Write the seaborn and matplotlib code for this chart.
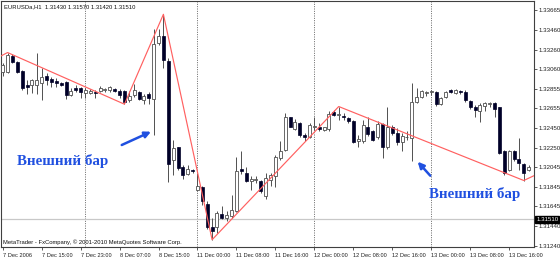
import matplotlib
matplotlib.use("Agg")
import matplotlib.pyplot as plt
import numpy as np
import pandas as pd
import seaborn as sns

# ---------------- data ----------------
opens = [1.33033, 1.33033, 1.33194, 1.33129, 1.33040, 1.32896, 1.32896, 1.32896, 1.32913, 1.32992,
         1.32958, 1.32937, 1.32920, 1.32923, 1.32793, 1.32862, 1.32862, 1.32817, 1.32817, 1.32827,
         1.32834, 1.32841, 1.32844, 1.32851, 1.32834, 1.32834, 1.32741, 1.32793, 1.32820, 1.32741,
         1.32800, 1.32748, 1.33325, 1.33403, 1.33143, 1.32124, 1.32251, 1.32045, 1.31977, 1.32021,
         1.31815, 1.31839, 1.31668, 1.31428, 1.31428, 1.31565, 1.31524, 1.31541, 1.31592, 1.32028,
         1.31987, 1.31901, 1.31915, 1.31908, 1.31747, 1.31918, 1.31953, 1.32141, 1.32227, 1.32560,
         1.32443, 1.32501, 1.32381, 1.32364, 1.32464, 1.32464, 1.32429, 1.32443, 1.32615, 1.32587,
         1.32577, 1.32553, 1.32525, 1.32313, 1.32313, 1.32467, 1.32416, 1.32354, 1.32491, 1.32261,
         1.32457, 1.32398, 1.32306, 1.32354, 1.32347, 1.32717, 1.32776, 1.32813, 1.32820, 1.32827,
         1.32697, 1.32776, 1.32841, 1.32810, 1.32834, 1.32827, 1.32731, 1.32673, 1.32628, 1.32683,
         1.32697, 1.32707, 1.32663, 1.32210, 1.32021, 1.32210, 1.32134, 1.32079, 1.32021]
highs = [1.33119, 1.33229, 1.33211, 1.33143, 1.33050, 1.32947, 1.32958, 1.33222, 1.33067, 1.33016,
         1.32982, 1.32964, 1.32930, 1.32937, 1.32862, 1.32896, 1.32879, 1.32862, 1.32855, 1.32844,
         1.32889, 1.32868, 1.32889, 1.32868, 1.32855, 1.32844, 1.32834, 1.32903, 1.32834, 1.32800,
         1.32820, 1.33472, 1.33472, 1.33623, 1.33170, 1.32330, 1.32261, 1.32073, 1.32073, 1.32031,
         1.31987, 1.31850, 1.31695, 1.31524, 1.31592, 1.31644, 1.31592, 1.31764, 1.32158, 1.32217,
         1.32055, 1.31953, 1.31959, 1.31918, 1.31987, 1.31987, 1.32176, 1.32320, 1.32604, 1.32570,
         1.32546, 1.32512, 1.32398, 1.32501, 1.32570, 1.32501, 1.32467, 1.32628, 1.32639, 1.32673,
         1.32604, 1.32570, 1.32536, 1.32381, 1.32536, 1.32560, 1.32433, 1.32519, 1.32501, 1.32673,
         1.32484, 1.32450, 1.32398, 1.32416, 1.32913, 1.32862, 1.32844, 1.32834, 1.32844, 1.32834,
         1.32776, 1.32834, 1.32855, 1.32855, 1.32844, 1.32841, 1.32741, 1.32690, 1.32707, 1.32724,
         1.32724, 1.32717, 1.32673, 1.32227, 1.32227, 1.32227, 1.32347, 1.32090, 1.32073]
lows = [1.32992, 1.33023, 1.33119, 1.33016, 1.32844, 1.32800, 1.32810, 1.32800, 1.32741, 1.32896,
        1.32879, 1.32879, 1.32886, 1.32752, 1.32786, 1.32820, 1.32765, 1.32765, 1.32800, 1.32765,
        1.32820, 1.32827, 1.32820, 1.32820, 1.32765, 1.32697, 1.32724, 1.32776, 1.32741, 1.32700,
        1.32700, 1.32381, 1.33307, 1.33067, 1.31891, 1.31970, 1.32021, 1.31929, 1.31963, 1.31987,
        1.31798, 1.31661, 1.31414, 1.31301, 1.31369, 1.31517, 1.31496, 1.31524, 1.31586, 1.31977,
        1.31894, 1.31815, 1.31884, 1.31781, 1.31723, 1.31850, 1.31840, 1.32124, 1.32217, 1.32457,
        1.32433, 1.32364, 1.32313, 1.32347, 1.32433, 1.32416, 1.32416, 1.32422, 1.32580, 1.32536,
        1.32536, 1.32501, 1.32296, 1.32251, 1.32302, 1.32374, 1.32313, 1.32340, 1.32141, 1.32237,
        1.32381, 1.32278, 1.32210, 1.32330, 1.32114, 1.32707, 1.32759, 1.32786, 1.32793, 1.32683,
        1.32690, 1.32765, 1.32810, 1.32800, 1.32800, 1.32724, 1.32649, 1.32570, 1.32512, 1.32628,
        1.32673, 1.32570, 1.32182, 1.31970, 1.32011, 1.32114, 1.32021, 1.31911, 1.32004]
closes = [1.33102, 1.33205, 1.33136, 1.33033, 1.32868, 1.32879, 1.32947, 1.32947, 1.32982, 1.32947,
          1.32930, 1.32913, 1.32896, 1.32793, 1.32834, 1.32844, 1.32820, 1.32841, 1.32834, 1.32810,
          1.32862, 1.32855, 1.32875, 1.32834, 1.32793, 1.32717, 1.32786, 1.32844, 1.32752, 1.32786,
          1.32759, 1.33314, 1.33403, 1.33153, 1.32079, 1.32244, 1.32038, 1.31970, 1.32031, 1.32004,
          1.31850, 1.31695, 1.31428, 1.31393, 1.31575, 1.31524, 1.31558, 1.31610, 1.32011, 1.32004,
          1.31901, 1.31925, 1.31929, 1.31798, 1.31935, 1.31970, 1.32158, 1.32217, 1.32570, 1.32467,
          1.32512, 1.32381, 1.32354, 1.32484, 1.32477, 1.32443, 1.32457, 1.32594, 1.32587, 1.32601,
          1.32560, 1.32525, 1.32306, 1.32337, 1.32484, 1.32388, 1.32330, 1.32491, 1.32261, 1.32457,
          1.32398, 1.32306, 1.32374, 1.32364, 1.32724, 1.32776, 1.32834, 1.32827, 1.32834, 1.32697,
          1.32759, 1.32827, 1.32820, 1.32841, 1.32820, 1.32741, 1.32673, 1.32639, 1.32690, 1.32714,
          1.32707, 1.32649, 1.32193, 1.31987, 1.32210, 1.32134, 1.32090, 1.31987, 1.32055]

zigzag_bar = [-1, 1, 25, 33, 43, 69, 107, 110]
zigzag_price = [1.33177, 1.33229, 1.32697, 1.33623, 1.31301, 1.32673, 1.31911, 1.31982]

xtick_bars = [0, 8, 16, 24, 32, 40, 48, 56, 64, 72, 80, 88, 96, 104]
xtick_labels = ["7 Dec 2006", "7 Dec 15:00", "7 Dec 23:00", "8 Dec 07:00", "8 Dec 15:00",
                "11 Dec 00:00", "11 Dec 08:00", "11 Dec 16:00", "12 Dec 00:00", "12 Dec 08:00",
                "12 Dec 16:00", "13 Dec 00:00", "13 Dec 08:00", "13 Dec 16:00"]
ytick_values = [1.33665, 1.33460, 1.33260, 1.33060, 1.32855, 1.32655, 1.32450,
                1.32250, 1.32045, 1.31845, 1.31645, 1.31440, 1.31240]
day_separator_bars = [17, 40, 64, 88]
bid_price = 1.31510
header_text = "EURUSDa,H1  1.31430 1.31570 1.31420 1.31510"
footer_text = "MetaTrader - FxCompany, \u00a9 2001-2010 MetaQuotes Software Corp."
annotation_text = "Внешний бар"

# ---------------- drawing ----------------
sns.set_style("white")
plt.rcParams['font.family'] = ['Liberation Sans', 'DejaVu Sans']

df = pd.DataFrame({"bar": np.arange(len(opens)), "open": opens, "high": highs,
                   "low": lows, "close": closes})

W, H = 560, 260
fig = plt.figure(figsize=(W / 100, H / 100), dpi=100)
fig.patch.set_facecolor("white")
ax = fig.add_axes([1 / W, 13 / H, 533 / W, 246 / H])
ax.set_facecolor("white")

# separators and bid line
for b in day_separator_bars:
    ax.axvline(b, color="#505050", lw=0.6, ls=(0, (1.2, 1.6)), zorder=1)
ax.axhline(bid_price, color="#c8c8c8", lw=0.9, zorder=1)

# wicks
ax.vlines(df["bar"], df["low"], df["high"], color="#505050", lw=0.7, zorder=2)

# bodies
bull = df[df["close"] >= df["open"]]
bear = df[df["close"] < df["open"]]
minh = 0.000025
bh = np.maximum(bull["close"] - bull["open"], minh)
ax.bar(bull["bar"], bh, bottom=bull["open"], width=0.62, color="white",
       edgecolor="#505050", lw=0.6, zorder=3)
ax.bar(bear["bar"], bear["open"] - bear["close"], bottom=bear["close"], width=0.62,
       color="#000028", edgecolor="#000028", lw=0.5, zorder=3)

# zigzag
sns.lineplot(x=zigzag_bar, y=zigzag_price, ax=ax, color="#ff6060", lw=0.85,
             sort=False, zorder=4, legend=False)

ax.set_xlim(-0.35, 109.1)
ax.set_ylim(1.31226, 1.3376)

# axes styling
for s in ax.spines.values():
    s.set_color("#404040")
    s.set_linewidth(0.8)
ax.yaxis.tick_right()
ax.set_yticks(ytick_values)
ax.set_yticklabels([f"{v:.5f}" for v in ytick_values])
ax.tick_params(axis="y", which="both", right=True, left=False, length=2, width=0.6,
               color="#404040", pad=1.5, labelsize=4.4, labelcolor="#202020")
ax.set_xticks(xtick_bars)
ax.set_xticklabels(xtick_labels)
ax.tick_params(axis="x", bottom=True, length=2.5, width=0.6, color="#404040",
               pad=1.8, labelsize=4.1, labelcolor="#202020")
for lab in ax.get_xticklabels():
    lab.set_horizontalalignment("left")
ax.set_xlabel("")
ax.set_ylabel("")
ax.grid(False)

# bid price tag
ax.text(1.004, bid_price, f"{bid_price:.5f}", transform=ax.get_yaxis_transform(),
        ha="left", va="center", fontsize=4.4, color="white",
        bbox=dict(boxstyle="square,pad=0.15", fc="black", ec="black"), zorder=6,
        clip_on=False)

# header and footer texts
ax.text(0.006, 0.985, header_text, transform=ax.transAxes, ha="left", va="top",
        fontsize=4.2, color="#101010")
ax.text(0.004, 0.008, footer_text, transform=ax.transAxes, ha="left", va="bottom",
        fontsize=4.2, color="#101010")

blue = "#2050e0"
ax.text(0.1163, 0.3496, annotation_text, transform=ax.transAxes, ha="center", va="center",
        fontsize=10.8, fontweight="bold", color=blue, family=["Liberation Serif", "DejaVu Serif"])
ax.text(0.889, 0.2154, annotation_text, transform=ax.transAxes, ha="center", va="center",
        fontsize=10.8, fontweight="bold", color=blue, family=["Liberation Serif", "DejaVu Serif"])

ax.annotate("", xy=(0.2814, 0.4687), xytext=(0.2265, 0.4146), xycoords="axes fraction",
            textcoords="axes fraction",
            arrowprops=dict(arrowstyle="-|>", lw=1.8, color=blue, mutation_scale=9,
                            shrinkA=0, shrinkB=0))
ax.annotate("", xy=(0.7818, 0.3467), xytext=(0.8054, 0.2898), xycoords="axes fraction",
            textcoords="axes fraction",
            arrowprops=dict(arrowstyle="-|>", lw=1.8, color=blue, mutation_scale=9,
                            shrinkA=0, shrinkB=0))

fig.savefig("out.png", dpi=100, facecolor="white")
